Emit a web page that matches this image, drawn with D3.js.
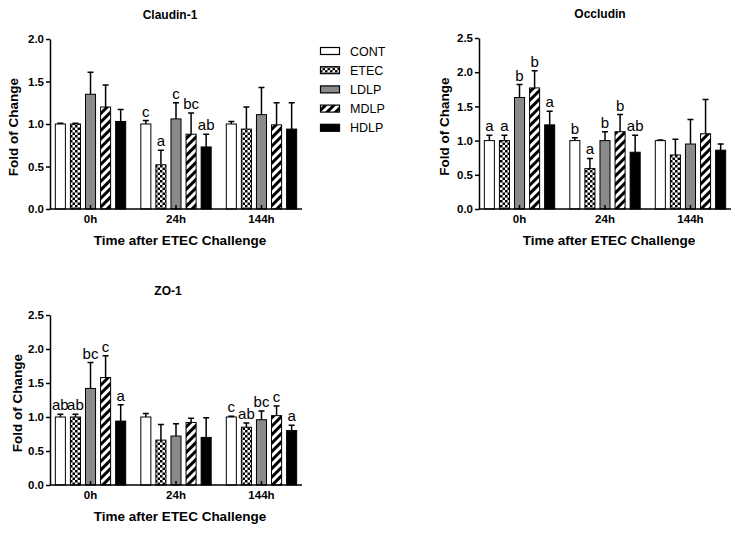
<!DOCTYPE html>
<html>
<head>
<meta charset="utf-8">
<script src="https://cdn.jsdelivr.net/npm/d3@7"></script>
<style>
  body, html {
    margin: 0;
    background: #fff;
    font-family: 'Liberation Sans', Arial, sans-serif;
  }
  .axis path, .axis line {
    stroke: #000;
    stroke-width: 1.5px;
  }
  .axis text {
    font-family: 'Liberation Sans', Arial, sans-serif;
    font-weight: bold;
    font-size: 11.5px;
    fill: #000;
  }
  .title, .axis-title {
    font-weight: bold;
    text-anchor: middle;
    fill: #000;
  }
  .letter {
    font-size: 15px;
    text-anchor: middle;
    fill: #000;
  }
  .legend text {
    font-size: 12.5px;
    fill: #000;
  }
</style>
</head>
<body>
<div id="chart"></div>
<script>
var groups = ["0h", "24h", "144h"];
var treatments = ["CONT", "ETEC", "LDLP", "MDLP", "HDLP"];

// mean fold change per time point (rows) and treatment (columns)
var claudinMean = [[1.00, 1.00, 1.35, 1.20, 1.03], [1.00, 0.52, 1.06, 0.88, 0.73], [1.00, 0.94, 1.11, 0.99, 0.94]];
var claudinErr = [[0.01, 0.01, 0.26, 0.26, 0.14], [0.04, 0.17, 0.19, 0.25, 0.15], [0.03, 0.26, 0.32, 0.26, 0.31]];
var claudinLetters = [["", "", "", "", ""], ["c", "a", "c", "bc", "ab"], ["", "", "", "", ""]];

var occludinMean = [[1.00, 1.00, 1.63, 1.77, 1.23], [1.00, 0.59, 1.00, 1.13, 0.83], [1.00, 0.79, 0.95, 1.10, 0.86]];
var occludinErr = [[0.08, 0.08, 0.19, 0.25, 0.20], [0.04, 0.15, 0.13, 0.25, 0.25], [0.01, 0.23, 0.36, 0.50, 0.09]];
var occludinLetters = [["a", "a", "b", "b", "a"], ["b", "a", "b", "b", "ab"], ["", "", "", "", ""]];

var zo1Mean = [[1.00, 1.00, 1.42, 1.58, 0.94], [1.00, 0.66, 0.72, 0.92, 0.70], [1.00, 0.85, 0.96, 1.02, 0.80]];
var zo1Err = [[0.04, 0.04, 0.38, 0.32, 0.24], [0.05, 0.23, 0.18, 0.06, 0.29], [0.01, 0.06, 0.13, 0.14, 0.08]];
var zo1Letters = [["ab", "ab", "bc", "c", "a"], ["", "", "", "", ""], ["c", "ab", "bc", "c", "a"]];

var fills = {CONT: "#fff", ETEC: "url(#checker)", LDLP: "#8a8a8a", MDLP: "url(#hatch)", HDLP: "#000"};

var svg = d3.select("#chart").append("svg")
  .attr("width", 743)
  .attr("height", 533);

var defs = svg.append("defs");
var checker = defs.append("pattern")
  .attr("id", "checker")
  .attr("patternUnits", "userSpaceOnUse")
  .attr("width", 5).attr("height", 5);
checker.append("rect").attr("width", 5).attr("height", 5).attr("fill", "#fff");
checker.append("rect").attr("width", 2.5).attr("height", 2.5).attr("fill", "#000");
checker.append("rect").attr("x", 2.5).attr("y", 2.5).attr("width", 2.5).attr("height", 2.5).attr("fill", "#000");

var hatch = defs.append("pattern")
  .attr("id", "hatch")
  .attr("patternUnits", "userSpaceOnUse")
  .attr("width", 6).attr("height", 6)
  .attr("patternTransform", "rotate(45)");
hatch.append("rect").attr("width", 6).attr("height", 6).attr("fill", "#fff");
hatch.append("rect").attr("width", 3).attr("height", 6).attr("fill", "#000");

function drawPanel(p) {
  var g = svg.append("g");
  var x0 = d3.scaleBand().domain(groups).range([p.left, p.right])
    .paddingInner(0.158).paddingOuter(0.053);
  var x1 = d3.scaleBand().domain(treatments).range([0, x0.bandwidth()])
    .paddingInner(0.267).paddingOuter(0.02);
  var y = d3.scaleLinear().domain([0, p.max]).range([p.bottom, p.top]);

  var rows = [];
  groups.forEach(function(grp, gi) {
    treatments.forEach(function(t, ti) {
      rows.push({group: grp, treat: t, mean: p.mean[gi][ti], err: p.err[gi][ti], letter: p.letters[gi][ti]});
    });
  });
  var cx = d => x0(d.group) + x1(d.treat) + x1.bandwidth() / 2;

  // error bars (upper only)
  g.append("g").selectAll("path")
    .data(rows)
    .enter().append("path")
      .attr("d", d => "M" + cx(d) + "," + y(d.mean) + "V" + y(d.mean + d.err) +
        "M" + (cx(d) - 3) + "," + y(d.mean + d.err) + "H" + (cx(d) + 3))
      .attr("stroke", "#000")
      .attr("stroke-width", 1.5)
      .attr("fill", "none");

  g.append("g").selectAll("rect")
    .data(rows)
    .enter().append("rect")
      .attr("x", d => x0(d.group) + x1(d.treat) + 0.5)
      .attr("y", d => y(d.mean))
      .attr("width", x1.bandwidth() - 1)
      .attr("height", d => y(0) - y(d.mean))
      .attr("fill", d => fills[d.treat])
      .attr("stroke", "#000")
      .attr("stroke-width", 1);

  g.append("g").selectAll("text")
    .data(rows.filter(d => d.letter))
    .enter().append("text")
      .attr("class", "letter")
      .attr("x", cx)
      .attr("y", d => y(d.mean + d.err) - 4)
      .text(d => d.letter);

  g.append("g")
    .attr("class", "axis")
    .attr("transform", "translate(" + p.left + ",0)")
    .call(d3.axisLeft(y).ticks(p.max / 0.5).tickFormat(d3.format(".1f")).tickSize(4).tickPadding(2).tickSizeOuter(0));

  var xAxis = g.append("g")
    .attr("class", "axis")
    .attr("transform", "translate(0," + p.bottom + ")")
    .call(d3.axisBottom(x0).tickSizeInner(-4).tickSizeOuter(0).tickPadding(6));
  xAxis.select(".domain").attr("d", "M" + p.left + ",0H" + p.right);

  g.append("text")
    .attr("class", "title")
    .attr("x", p.titleX)
    .attr("y", p.top - 20)
    .style("font-size", "12px")
    .text(p.title);

  g.append("text")
    .attr("class", "axis-title")
    .attr("x", (p.left + p.right) / 2 + 4)
    .attr("y", p.bottom + 36)
    .style("font-size", "13.5px")
    .text("Time after ETEC Challenge");

  g.append("text")
    .attr("class", "axis-title")
    .attr("transform", "translate(" + p.ylabX + "," + ((p.top + p.bottom) / 2 + 3) + ") rotate(-90)")
    .attr("dy", "0.35em")
    .style("font-size", "13.5px")
    .text("Fold of Change");
}

drawPanel({title: "Claudin-1", mean: claudinMean, err: claudinErr, letters: claudinLetters,
  max: 2.0, left: 50, right: 302, top: 39, bottom: 209, titleX: 170, ylabX: 13});
drawPanel({title: "Occludin", mean: occludinMean, err: occludinErr, letters: occludinLetters,
  max: 2.5, left: 479, right: 731, top: 38, bottom: 209, titleX: 600, ylabX: 444});
drawPanel({title: "ZO-1", mean: zo1Mean, err: zo1Err, letters: zo1Letters,
  max: 2.5, left: 50, right: 302, top: 315, bottom: 485, titleX: 168, ylabX: 17});

// legend
var legend = svg.append("g")
  .attr("class", "legend")
  .attr("transform", "translate(320,51)");
var item = legend.selectAll("g")
  .data(treatments)
  .enter().append("g")
    .attr("transform", (d, i) => "translate(0," + i * 19.2 + ")");
item.append("rect")
  .attr("x", 0.5).attr("y", -3.5)
  .attr("width", 19).attr("height", 7)
  .attr("fill", d => fills[d])
  .attr("stroke", "#000")
  .attr("stroke-width", 1.2);
item.append("text")
  .attr("x", 30)
  .attr("dy", "0.36em")
  .text(d => d);
</script>
</body>
</html>
